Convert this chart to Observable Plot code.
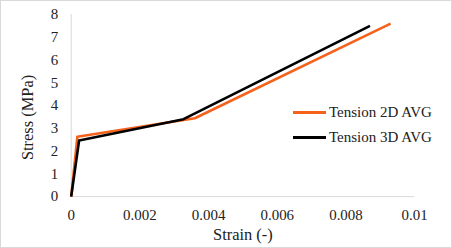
<!DOCTYPE html>
<html>
<head>
<meta charset="utf-8">
<script src="https://cdn.jsdelivr.net/npm/d3@7"></script>
<script src="https://cdn.jsdelivr.net/npm/@observablehq/plot@0.6"></script>
<style>
  html, body { margin: 0; padding: 0; background: #fff; }
  #wrap { position: relative; width: 452px; height: 248px; box-sizing: border-box; border: 1px solid #d9d9d9; overflow: hidden; }
  #wrap svg { position: absolute; left: -1px; top: -1px; }
  .legend { position: absolute; left: 292px; font-family: "Liberation Serif", "Times New Roman", serif; font-size: 15px; color: #222; display: flex; align-items: center; }
  .legend .sw { width: 33px; height: 3px; margin-right: 3px; }
</style>
</head>
<body>
<div id="wrap"></div>
<script>
const xTicks = [0, 0.002, 0.004, 0.006, 0.008, 0.01];
const xTickLabels = ["0", "0.002", "0.004", "0.006", "0.008", "0.01"];
const yTicks = [0, 1, 2, 3, 4, 5, 6, 7, 8];
const xTitle = "Strain (-)";
const yTitle = "Stress (MPa)";

const seriesNames = ["Tension 2D AVG", "Tension 3D AVG"];
const seriesColors = ["#F6621C", "#000000"];

const strain2D = [0, 0.00018, 0.0036, 0.0093];
const stress2D = [0, 2.63, 3.44, 7.6];
const strain3D = [0, 0.00023, 0.00327, 0.0087];
const stress3D = [0, 2.46, 3.40, 7.5];

const data = [
  ...strain2D.map((x, i) => ({series: seriesNames[0], x, y: stress2D[i]})),
  ...strain3D.map((x, i) => ({series: seriesNames[1], x, y: stress3D[i]}))
];

const font = "Liberation Serif, Times New Roman, serif";
const plot = Plot.plot({
  width: 452,
  height: 248,
  marginLeft: 71,
  marginRight: 36,
  marginTop: 14,
  marginBottom: 51,
  style: {fontFamily: font, fontSize: "15px", color: "#222", background: "transparent"},
  x: {domain: [0, 0.01]},
  y: {domain: [0, 8]},
  color: {domain: seriesNames, range: seriesColors},
  marks: [
    Plot.ruleY([0], {x1: 0, x2: 0.01, stroke: "#d9d9d9", strokeWidth: 1}),
    Plot.ruleX([0], {y1: 0, y2: 8, stroke: "#d9d9d9", strokeWidth: 1}),
    Plot.axisX({ticks: xTicks, tickSize: 0, tickPadding: 13, tickFormat: (d, i) => xTickLabels[i], label: null, fontSize: 15}),
    Plot.axisY({ticks: yTicks, tickSize: 0, tickPadding: 13, label: null, fontSize: 15}),
    Plot.text([xTitle], {text: d => d, frameAnchor: "bottom", dy: 38, lineAnchor: "middle", textAnchor: "middle", fontSize: 16.5, fill: "#222"}),
    Plot.text([yTitle], {text: d => d, frameAnchor: "left", dx: -44, dy: 12, rotate: -90, lineAnchor: "middle", textAnchor: "middle", fontSize: 16.5, fill: "#222"}),
    Plot.line(data, {x: "x", y: "y", z: "series", stroke: "series", strokeWidth: 2.6, strokeLinejoin: "round", strokeLinecap: "butt"})
  ]
});
const wrap = document.getElementById("wrap");
wrap.appendChild(plot);

const legendTops = [103, 128];
seriesNames.forEach((name, i) => {
  const div = document.createElement("div");
  div.className = "legend";
  div.style.top = legendTops[i] + "px";
  const sw = document.createElement("div");
  sw.className = "sw";
  sw.style.background = seriesColors[i];
  div.appendChild(sw);
  const span = document.createElement("span");
  span.textContent = name;
  div.appendChild(span);
  wrap.appendChild(div);
});
</script>
</body>
</html>
